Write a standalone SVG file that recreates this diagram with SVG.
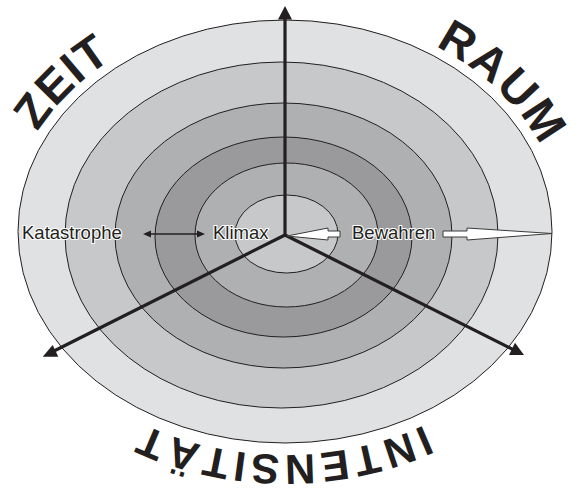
<svg xmlns="http://www.w3.org/2000/svg" xmlns:xlink="http://www.w3.org/1999/xlink" width="576" height="490" viewBox="0 0 576 490">
  <style>
    .ring { stroke: #231f20; stroke-width: 1; }
    .axis { stroke: #231f20; stroke-width: 3.2; fill: none; }
    .head { fill: #231f20; }
    .lbl { font-family: "Liberation Sans", Arial, sans-serif; font-size: 18.5px; fill: #231f20; stroke: #ffffff; stroke-width: 2.2px; paint-order: stroke; stroke-linejoin: round; }
    .big { font-family: "Liberation Sans", Arial, sans-serif; font-weight: bold; fill: #231f20; }
    .hollow { fill: #ffffff; stroke: #3a3a3a; stroke-width: 1; stroke-linejoin: miter; }
  </style>
  <defs>
    <path id="labelPath" d="M 7,233 A 278,222 0 1,1 563,233 A 278,222 0 1,1 7,233"/>
  </defs>
  <rect width="576" height="490" fill="#ffffff"/>
  <g id="rings">
    <ellipse id="ring1" class="ring" cx="285" cy="231.5" rx="267" ry="211.5" fill="#e0e1e2"/>
    <ellipse id="ring2" class="ring" cx="281.5" cy="235" rx="216.5" ry="173" fill="#c7c8c9"/>
    <ellipse id="ring3" class="ring" cx="283.5" cy="235.5" rx="168.5" ry="132.5" fill="#afb0b2"/>
    <ellipse id="ring4" class="ring" cx="283.5" cy="237" rx="128.5" ry="100" fill="#9a9a9d"/>
    <ellipse id="ring5" class="ring" cx="286.5" cy="235" rx="91.5" ry="72" fill="#afb0b2"/>
    <ellipse id="ring6" class="ring" cx="286.5" cy="234" rx="51.5" ry="39" fill="#c7c8c9"/>
  </g>
  <g id="connectors">
    <line class="axis" x1="285" y1="235" x2="285" y2="18"/>
    <polygon class="head" points="285,6 278,19.5 292,19.5"/>
    <line class="axis" x1="285" y1="235" x2="52" y2="352"/>
    <polygon class="head" points="42.7,356.7 58.3,356.7 52.7,345"/>
    <line class="axis" x1="285" y1="235" x2="516" y2="351"/>
    <polygon class="head" points="509,355 524,355 515,342.7"/>
    <line x1="149" y1="234" x2="199" y2="234" stroke="#231f20" stroke-width="1.3"/>
    <polygon class="head" points="143,234 151,230.5 151,237.5"/>
    <polygon class="head" points="205,234 197,230.5 197,237.5"/>
    <polygon class="hollow" points="287,236 328,228 328,231 340,231 340,237 328,237 328,240"/>
    <polygon class="hollow" points="443,231 467,231 467,228 552,233.5 467,240 467,237 443,237"/>
  </g>
  <g id="labels">
    <text id="katastrophe" class="lbl" x="22" y="238.5">Katastrophe</text>
    <text id="klimax" class="lbl" x="213" y="238.5">Klimax</text>
    <text id="bewahren" class="lbl" x="352" y="238.5">Bewahren</text>
    <text id="zeit" class="big" font-size="47" letter-spacing="1" text-anchor="middle"><textPath xlink:href="#labelPath" href="#labelPath" startOffset="160">ZEIT</textPath></text>
    <text id="raum" class="big" font-size="47" letter-spacing="2" text-anchor="middle"><textPath xlink:href="#labelPath" href="#labelPath" startOffset="624">RAUM</textPath></text>
    <text id="intensitaet" class="big" font-size="42" letter-spacing="4.5" text-anchor="middle"><textPath xlink:href="#labelPath" href="#labelPath" startOffset="1184">INTENSITÄT</textPath></text>
  </g>
</svg>
